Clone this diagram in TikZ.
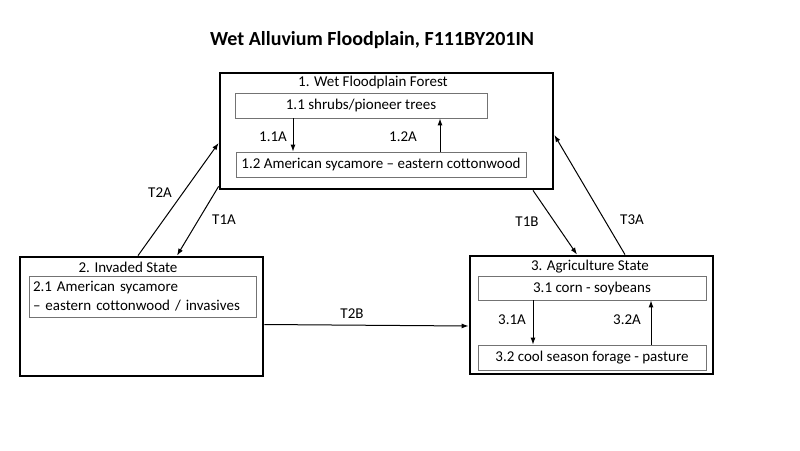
\documentclass[tikz,border=0pt]{standalone}
\usepackage{fontspec}
\setmainfont{Carlito}[Ligatures=NoCommon]
\usetikzlibrary{arrows.meta}
\begin{document}
\begin{tikzpicture}[x=1pt, y=-1pt,
  every node/.style={font=\fontsize{15}{17}\selectfont, text=black},
  statebox/.style={draw, line width=2.8pt, minimum width=#1, inner sep=0pt},
  phasebox/.style={draw=black!55, line width=0.8pt, minimum width=#1, minimum height=25pt, inner sep=2pt},
  trans/.style={-{Latex[length=7pt,width=5pt]}, line width=1pt}]
\useasboundingbox (0,0) rectangle (800,450);

\node[font=\bfseries\fontsize{20}{22}\selectfont] (title) at (372, 40) {Wet Alluvium Floodplain, F111BY201IN};

% state 1
\node[statebox=333pt, minimum height=116pt] (s1) at (386.5, 131) {};
\node (s1t) at (373, 82) {1. Wet Floodplain Forest};
\node[phasebox=252pt] (p11) at (361, 105.5) {1.1 shrubs/pioneer trees};
\node[phasebox=290pt] (p12) at (381, 164.5) {1.2 American sycamore -- eastern cottonwood};
\node (l11) at (273, 137) {1.1A};
\node (l12) at (403, 137) {1.2A};

% state 2
\node[statebox=243pt, minimum height=119pt] (s2) at (141.5, 316.5) {};
\node (s2t) at (128, 267) {2. Invaded State};
\node[phasebox=227pt, minimum height=41pt, text width=219pt, align=left, inner xsep=4pt, inner ysep=2pt, font=\fontsize{15}{19}\selectfont] (p21) at (142.5, 296.5) {2.1 American sycamore\\-- eastern cottonwood / invasives};

% state 3
\node[statebox=243pt, minimum height=118pt] (s3) at (591.5, 315) {};
\node (s3t) at (590, 267) {3. Agriculture State};
\node[phasebox=228pt, minimum height=24pt] (p31) at (592, 288) {3.1 corn - soybeans};
\node[phasebox=228pt] (p32) at (592, 357.5) {3.2 cool season forage - pasture};
\node (l31) at (512, 320) {3.1A};
\node (l32) at (627, 320) {3.2A};

% transition labels
\node (t2a) at (160, 193) {T2A};
\node (t1a) at (224, 220) {T1A};
\node (t1b) at (527, 222) {T1B};
\node (t3a) at (632, 220) {T3A};
\node (t2b) at (352, 314) {T2B};

\draw[trans] ([xshift=-68pt]p11.south) -- ([xshift=-68pt]p11.south |- p12.north);
\draw[trans] ([xshift=79pt]p11.south |- p12.north) -- ([xshift=79pt]p11.south);

\draw[trans] ([xshift=-59pt]p31.south) -- ([xshift=-59pt]p31.south |- p32.north);
\draw[trans] ([xshift=59pt]p31.south |- p32.north) -- ([xshift=59pt]p31.south);

\draw[trans] ([xshift=-3.5pt]s2.north) -- ([yshift=-12pt]s1.west);
\draw[trans] ([yshift=4pt]s1.south west) -- ([xshift=35.5pt]s2.north);
\draw[trans] ([xshift=146.5pt]s1.south) -- ([xshift=-14.5pt]s3.north);
\draw[trans] ([xshift=33.5pt]s3.north) -- ([yshift=-4pt]s1.east);
\draw[trans] ([yshift=-8pt]s2.east) -- ([yshift=-11pt]s3.west);
\end{tikzpicture}
\end{document}
